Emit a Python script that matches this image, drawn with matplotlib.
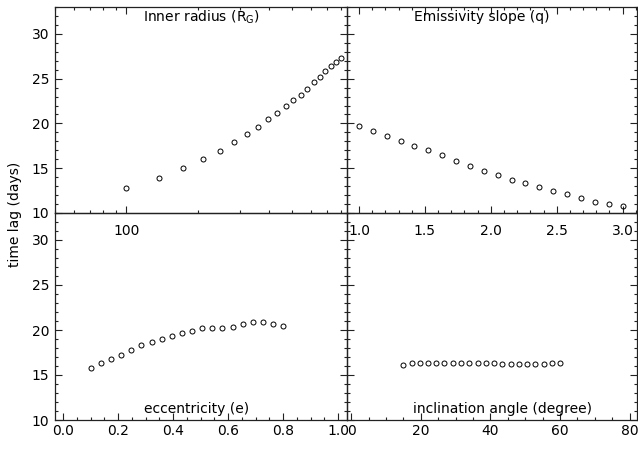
import matplotlib
matplotlib.use("Agg")
import matplotlib.pyplot as plt
from matplotlib.ticker import MultipleLocator, LogLocator, NullFormatter, FixedLocator

plt.rcParams['font.family'] = ['DejaVu Sans']
plt.rcParams['font.size'] = 10
plt.rcParams['mathtext.default'] = 'regular'

# inner radius (R_G) vs time lag
r_in = [100, 136.8, 173.7, 210.5, 247.4, 284.2, 321.1, 357.9, 394.7, 431.6,
        468.4, 505.3, 542.1, 578.9, 615.8, 652.6, 689.5, 726.3, 763.2, 800]
lag_r = [12.8, 13.9, 15.0, 16.07, 16.97, 17.9, 18.8, 19.65, 20.55, 21.2,
         21.9, 22.6, 23.2, 23.9, 24.6, 25.2, 25.8, 26.4, 26.9, 27.3]

# emissivity slope (q)
q = [1.0, 1.105, 1.211, 1.316, 1.421, 1.526, 1.632, 1.737, 1.842, 1.947,
     2.053, 2.158, 2.263, 2.368, 2.474, 2.579, 2.684, 2.789, 2.895, 3.0]
lag_q = [19.69, 19.13, 18.57, 18.05, 17.49, 17.0, 16.44, 15.85, 15.29, 14.70,
         14.2, 13.72, 13.31, 12.9, 12.49, 12.08, 11.68, 11.26, 11.0, 10.78]

# eccentricity (e)
ecc = [0.100, 0.137, 0.174, 0.211, 0.247, 0.284, 0.321, 0.358, 0.395, 0.432,
       0.468, 0.505, 0.542, 0.579, 0.616, 0.653, 0.689, 0.726, 0.763, 0.800]
lag_e = [15.77, 16.29, 16.73, 17.2, 17.76, 18.31, 18.72, 19.05, 19.30, 19.64,
         19.93, 20.19, 20.26, 20.26, 20.38, 20.63, 20.88, 20.85, 20.66, 20.44]

# inclination angle (degree)
incl = [15.0, 17.4, 19.7, 22.1, 24.5, 26.8, 29.2, 31.6, 33.9, 36.3,
        38.7, 41.1, 43.4, 45.8, 48.2, 50.5, 52.9, 55.3, 57.6, 60.0]
lag_i = [16.15, 16.3, 16.35, 16.3, 16.3, 16.3, 16.3, 16.3, 16.35, 16.35,
         16.35, 16.3, 16.25, 16.25, 16.25, 16.25, 16.25, 16.25, 16.3, 16.3]

W, H = 638.0, 449.0
L, M, R = 55 / W, 347 / W, 637 / W
T, MID, B = 1 - 7 / H, 1 - 213 / H, 1 - 420 / H

fig = plt.figure(figsize=(6.38, 4.49), dpi=100)
ax_bl = fig.add_axes([L, B, M - L, MID - B])
ax_br = fig.add_axes([M, B, R - M, MID - B])
ax_tl = fig.add_axes([L, MID, M - L, T - MID])
ax_tr = fig.add_axes([M, MID, R - M, T - MID])
for ax in (ax_bl, ax_br, ax_tl, ax_tr):
    ax.set_facecolor('none')


def style(ax, top, left_labels, xpad):
    for s in ax.spines.values():
        s.set_linewidth(0.9)
        s.set_color('#222222')
    ax.set_ylim(10, 33)
    ax.yaxis.set_major_locator(MultipleLocator(5))
    ax.yaxis.set_minor_locator(MultipleLocator(1))
    ax.tick_params(which='both', direction='in', top=top, right=True, left=True,
                   bottom=True, labelleft=left_labels, width=0.8, color='#222222')
    ax.tick_params(which='major', length=5)
    ax.tick_params(which='minor', length=2.5)
    ax.tick_params(axis='x', pad=xpad)
    ax.tick_params(axis='y', pad=4)


def draw(ax, x, y):
    ax.plot(x, y, 'o', ls='none', ms=3.6, mfc='none', mec='black', mew=0.7)


# top left: log axis
draw(ax_tl, r_in, lag_r)
ax_tl.set_xscale('log')
ax_tl.set_xlim(50, 850)
ax_tl.xaxis.set_major_locator(FixedLocator([100]))
ax_tl.xaxis.set_major_formatter(matplotlib.ticker.FormatStrFormatter('%d'))
ax_tl.xaxis.set_minor_locator(LogLocator(base=10, subs=range(2, 10)))
ax_tl.xaxis.set_minor_formatter(NullFormatter())
style(ax_tl, True, True, 8)
ax_tl.text(0.5, 0.95, 'Inner radius (R$_G$)', transform=ax_tl.transAxes,
           ha='center', va='center')

# top right
draw(ax_tr, q, lag_q)
ax_tr.set_xlim(0.909, 3.109)
ax_tr.xaxis.set_major_locator(MultipleLocator(0.5))
ax_tr.xaxis.set_minor_locator(MultipleLocator(0.1))
ax_tr.xaxis.set_major_formatter(matplotlib.ticker.FormatStrFormatter('%.1f'))
style(ax_tr, True, False, 8)
ax_tr.text(0.466, 0.95, 'Emissivity slope (q)', transform=ax_tr.transAxes,
           ha='center', va='center')

# bottom left
draw(ax_bl, ecc, lag_e)
ax_bl.set_xlim(-0.03, 1.032)
ax_bl.xaxis.set_major_locator(MultipleLocator(0.2))
ax_bl.xaxis.set_minor_locator(MultipleLocator(0.05))
ax_bl.xaxis.set_major_formatter(matplotlib.ticker.FormatStrFormatter('%.1f'))
style(ax_bl, False, True, 3)
ax_bl.text(0.486, 0.055, 'eccentricity (e)', transform=ax_bl.transAxes,
           ha='center', va='center')

# bottom right
draw(ax_br, incl, lag_i)
ax_br.set_xlim(-1.2, 82.1)
ax_br.xaxis.set_major_locator(MultipleLocator(20))
ax_br.xaxis.set_minor_locator(MultipleLocator(5))
style(ax_br, False, False, 3)
ax_br.text(0.536, 0.055, 'inclination angle (degree)', transform=ax_br.transAxes,
           ha='center', va='center')

fig.text(15 / W, 1 - 214 / H, 'time lag (days)', rotation=90,
         ha='center', va='center')

fig.savefig('out.png', dpi=100)
